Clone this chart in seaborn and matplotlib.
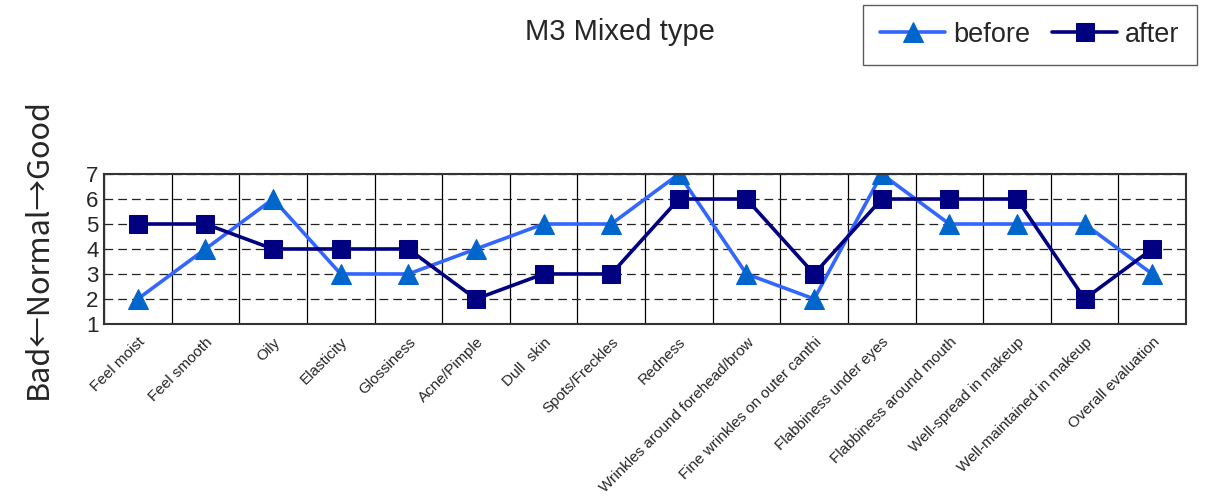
import numpy as np
import pandas as pd
import matplotlib
matplotlib.use("Agg")
import matplotlib.pyplot as plt
import seaborn as sns

# categories and scores
items = ["Feel moist", "Feel smooth", "Oily", "Elasticity", "Glossiness",
         "Acne/Pimple", "Dull  skin", "Spots/Freckles", "Redness",
         "Wrinkles around forehead/brow", "Fine wrinkles on outer canthi",
         "Flabbiness under eyes", "Flabbiness around mouth",
         "Well-spread in makeup", "Well-maintained in makeup",
         "Overall evaluation"]
before = [2, 4, 6, 3, 3, 4, 5, 5, 7, 3, 2, 7, 5, 5, 5, 3]
after = [5, 5, 4, 4, 4, 2, 3, 3, 6, 6, 3, 6, 6, 6, 2, 4]
y_ticks = [1, 2, 3, 4, 5, 6, 7]

df = pd.DataFrame({
    "item": items * 2,
    "score": before + after,
    "when": ["before"] * len(items) + ["after"] * len(items),
})

sns.set_style("white")
plt.rcParams["font.family"] = ["Liberation Sans", "DejaVu Sans"]

line_colors = {"before": "#3366FF", "after": "#000080"}
marker_colors = {"before": "#0066CC", "after": "#000080"}

fig = plt.figure(figsize=(12.31, 5.03), dpi=100)
ax = fig.add_axes([0.0845, 0.356, 0.879, 0.298])

sns.lineplot(data=df, x="item", y="score", hue="when", style="when",
             palette=line_colors, markers={"before": "^", "after": "s"},
             dashes=False, sort=False, linewidth=2.6, markersize=14,
             legend=False, ax=ax)

for ln, key in zip(ax.lines, ["before", "after"]):
    ln.set_markerfacecolor(marker_colors[key])
    ln.set_markeredgecolor(marker_colors[key])
    ln.set_label(key)
ax.lines[1].set_markersize(12.5)

ax.set_xlim(-0.5, len(items) - 0.5)
ax.set_ylim(1, 7)
ax.set_yticks(y_ticks)
ax.set_yticklabels([str(v) for v in y_ticks], fontsize=16)
ax.tick_params(axis="y", length=0, pad=4)
ax.tick_params(axis="x", length=0, pad=8)
ax.set_xticks(range(len(items)))
ax.set_xticklabels(items, rotation=45, ha="right", rotation_mode="anchor",
                   fontsize=11)
ax.set_xticks(np.arange(-0.5, len(items), 1), minor=True)
ax.grid(which="minor", axis="x", color="black", linewidth=0.9)
ax.grid(which="major", axis="y", color="#222222", linestyle=(0, (7, 4)),
        linewidth=0.9)
ax.grid(which="major", axis="x", visible=False)
for s in ax.spines.values():
    s.set_visible(True)
    s.set_color("#333333")
    s.set_linewidth(1.5)
ax.set_axisbelow(True)

ax.set_xlabel("")
ax.set_ylabel("Bad←Normal→Good", fontsize=22,
              family=["Noto Sans CJK JP", "DejaVu Sans"])
ax.yaxis.set_label_coords(-0.046, 0.5)

fig.text(0.504, 0.937, "M3 Mixed type", ha="center", va="center", fontsize=21)

fig.legend(handles=ax.lines[:2], labels=["before", "after"],
           loc="upper right", bbox_to_anchor=(0.972, 0.99), ncol=2,
           fontsize=19.5, frameon=True, fancybox=False, edgecolor="#333333",
           handlelength=2.4, handletextpad=0.3, columnspacing=0.8,
           borderpad=0.62, borderaxespad=0)

fig.savefig("out.png", dpi=100)
